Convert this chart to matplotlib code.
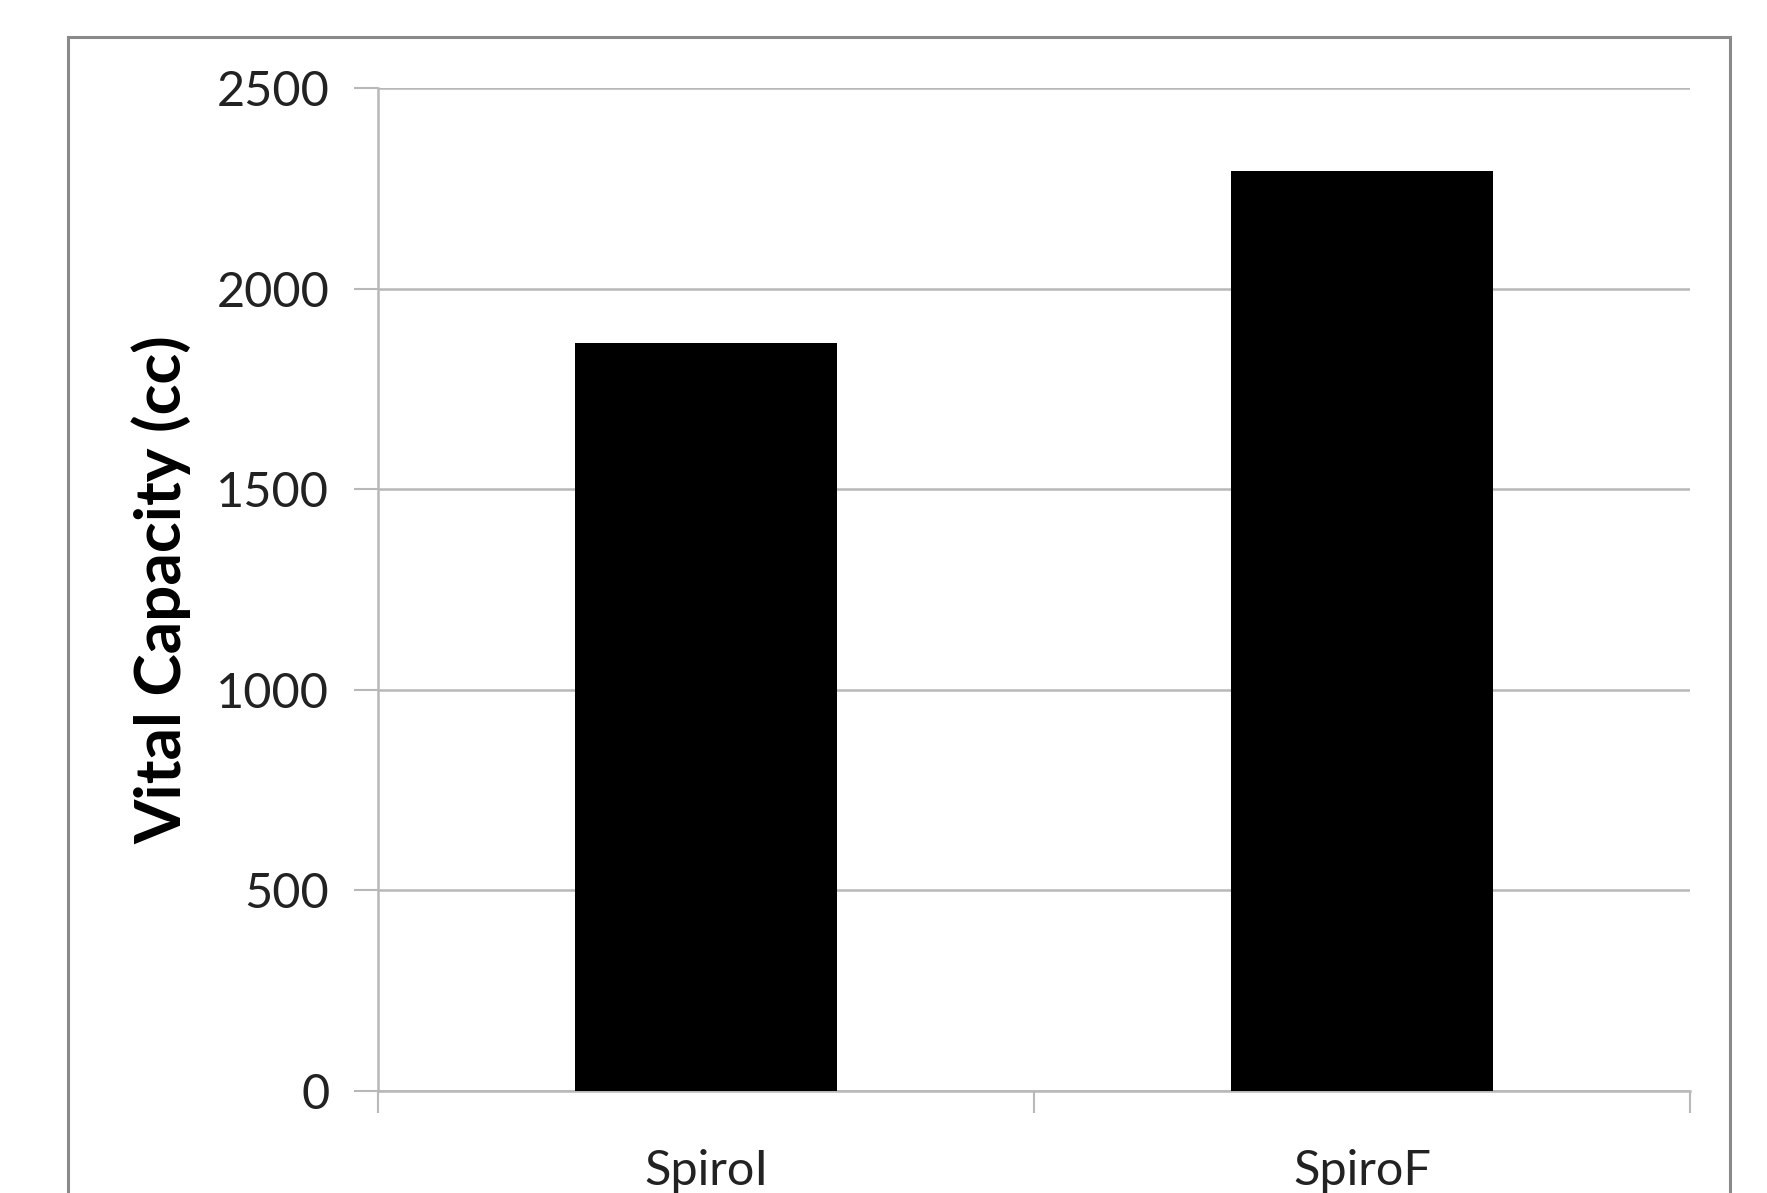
"""Vital capacity bar chart: initial vs final spirometry."""

import matplotlib.pyplot as plt
from matplotlib.patches import Rectangle
from matplotlib.ticker import FixedLocator

_OUTPUT_PATH = "out.png"

categories = ["SpiroI", "SpiroF"]
vital_capacity = [1865, 2292]
y_ticks = [0, 500, 1000, 1500, 2000, 2500]

_GRID_COLOR = "#b8b8b8"
_FONT = ["Lato", "DejaVu Sans"]


def main() -> None:
    plt.rcParams["font.family"] = _FONT
    fig = plt.figure(figsize=(17.67, 11.93), dpi=100)
    ax = fig.add_axes([0.2139, 0.0855, 0.9564 - 0.2139, 0.9262 - 0.0855])

    positions = list(range(len(categories)))
    ax.bar(positions, vital_capacity, width=0.4, color="black", zorder=3)

    ax.set_xlim(-0.5, len(categories) - 0.5)
    ax.set_ylim(0, 2500)
    ax.set_yticks(y_ticks)
    ax.set_yticklabels([str(v) for v in y_ticks], fontsize=35, color="#222222")
    ax.set_xticks(positions)
    ax.set_xticklabels(categories, fontsize=35, color="#222222")
    ax.xaxis.set_minor_locator(FixedLocator([-0.5, 0.5, 1.5]))

    ax.tick_params(axis="x", which="major", length=0, pad=42)
    ax.tick_params(axis="x", which="minor", length=16, width=1.5, color=_GRID_COLOR)
    ax.tick_params(axis="y", length=17, width=1.5, color=_GRID_COLOR, pad=18)

    ax.grid(axis="y", color=_GRID_COLOR, linewidth=1.8, zorder=0)
    for side in ("top", "right"):
        ax.spines[side].set_visible(False)
    for side in ("left", "bottom"):
        ax.spines[side].set_color(_GRID_COLOR)
        ax.spines[side].set_linewidth(1.8)

    ax.set_ylabel("Vital Capacity (cc)", fontsize=46, fontweight="bold", labelpad=18)

    # outer chart frame, cut off at the bottom edge like the source
    fig.patches.append(
        Rectangle(
            (68 / 1767, -0.05),
            (1730 - 68) / 1767,
            1 - 37 / 1193 + 0.05,
            transform=fig.transFigure,
            fill=False,
            edgecolor="#8a8a8a",
            linewidth=2.2,
        )
    )

    fig.savefig(_OUTPUT_PATH, dpi=100)
    plt.close(fig)


if __name__ == "__main__":
    main()
